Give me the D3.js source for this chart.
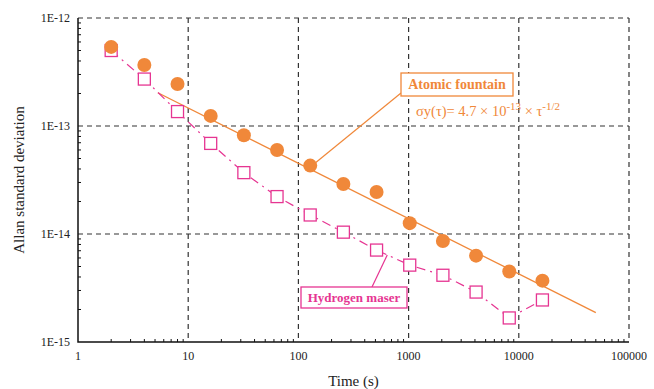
<!DOCTYPE html>
<html>
<head>
<meta charset="utf-8">
<script src="https://cdn.jsdelivr.net/npm/d3@7"></script>
<style>
  body { margin: 0; background: #fff; }
  svg { display: block; font-family: "Liberation Serif", "DejaVu Serif", serif; }
</style>
</head>
<body>
<svg id="chart" width="654" height="389"></svg>
<script>
// averaging times (s)
const taus = [2, 4, 8, 16, 32, 64, 128, 256, 512, 1024, 2048, 4096, 8192, 16384];
const fountain = [5.4e-13, 3.67e-13, 2.45e-13, 1.24e-13, 8.2e-14, 6.0e-14, 4.3e-14, 2.9e-14, 2.45e-14, 1.26e-14, 8.6e-15, 6.3e-15, 4.5e-15, 3.7e-15];
const maser = [5.0e-13, 2.72e-13, 1.36e-13, 6.9e-14, 3.7e-14, 2.22e-14, 1.5e-14, 1.04e-14, 7.1e-15, 5.15e-15, 4.15e-15, 2.9e-15, 1.67e-15, 2.45e-15];
const fitTau = [5.3, 50000];
const fitVal = [2.03e-13, 1.87e-15];
const xTicks = [1, 10, 100, 1000, 10000, 100000];
const yTicks = [1e-12, 1e-13, 1e-14, 1e-15];
const yTickLabels = ["1E-12", "1E-13", "1E-14", "1E-15"];

const orange = "#f0883a";
const pink = "#e63592";

const plotL = 78, plotR = 629, plotT = 18, plotB = 342;

const svg = d3.select("#chart");

const x = d3.scaleLog().domain([1, 100000]).range([plotL, plotR]);
const y = d3.scaleLog().domain([1e-15, 1e-12]).range([plotB, plotT]);

// grid (dashed) at decades, plus dashed top/right frame
const grid = svg.append("g").attr("stroke", "#333").attr("stroke-width", 1.2).attr("stroke-dasharray", "5,4");
grid.selectAll("line.vx")
    .data(xTicks.slice(1))
    .join("line")
    .attr("x1", d => x(d)).attr("x2", d => x(d))
    .attr("y1", plotT).attr("y2", plotB);
grid.selectAll("line.hy")
    .data(yTicks.slice(0, 3))
    .join("line")
    .attr("x1", plotL).attr("x2", plotR)
    .attr("y1", d => y(d)).attr("y2", d => y(d));

// minor ticks, inward
let minorX = [];
for (let e = 1; e < 100000; e *= 10) for (let k = 2; k <= 9; k++) minorX.push(e * k);
let minorY = [];
for (let e = 1e-15; e < 1e-12 * 0.99; e *= 10) for (let k = 2; k <= 9; k++) minorY.push(e * k);

const ticks = svg.append("g").attr("stroke", "#111").attr("stroke-width", 1);
ticks.selectAll("line.mx").data(minorX).join("line")
    .attr("x1", d => x(d)).attr("x2", d => x(d))
    .attr("y1", plotB).attr("y2", plotB - 3);
ticks.selectAll("line.my").data(minorY).join("line")
    .attr("x1", plotL).attr("x2", plotL + 3)
    .attr("y1", d => y(d)).attr("y2", d => y(d));

// solid left & bottom axis lines
svg.append("path")
    .attr("d", `M${plotL},${plotT}V${plotB}H${plotR}`)
    .attr("fill", "none").attr("stroke", "#111").attr("stroke-width", 1.5);

// tick labels
svg.append("g").selectAll("text")
    .data(xTicks).join("text")
    .attr("x", d => x(d)).attr("y", 360)
    .attr("text-anchor", "middle")
    .attr("font-size", 12).attr("fill", "#222")
    .text(d => d);
svg.append("g").selectAll("text")
    .data(yTicks).join("text")
    .attr("x", 70).attr("y", d => y(d) + 4)
    .attr("text-anchor", "end")
    .attr("font-size", 12).attr("fill", "#222")
    .text((d, i) => yTickLabels[i]);

// axis titles
svg.append("text")
    .attr("x", (plotL + plotR) / 2).attr("y", 386)
    .attr("text-anchor", "middle").attr("font-size", 15).attr("fill", "#222")
    .text("Time (s)");
svg.append("text")
    .attr("transform", `translate(24, ${(plotT + plotB) / 2}) rotate(-90)`)
    .attr("text-anchor", "middle").attr("font-size", 15).attr("fill", "#222")
    .text("Allan standard deviation");

// fit line for the fountain
svg.append("line")
    .attr("x1", x(fitTau[0])).attr("y1", y(fitVal[0]))
    .attr("x2", x(fitTau[1])).attr("y2", y(fitVal[1]))
    .attr("stroke", orange).attr("stroke-width", 1.3);

// maser dash-dot line + squares
const maserPts = taus.map((t, i) => [t, maser[i]]);
svg.append("path")
    .datum(maserPts)
    .attr("d", d3.line().x(d => x(d[0])).y(d => y(d[1])))
    .attr("fill", "none").attr("stroke", pink).attr("stroke-width", 1.2)
    .attr("stroke-dasharray", "9,5,2,5");
const sq = 12;
svg.append("g").selectAll("rect")
    .data(maserPts).join("rect")
    .attr("x", d => x(d[0]) - sq / 2).attr("y", d => y(d[1]) - sq / 2)
    .attr("width", sq).attr("height", sq)
    .attr("fill", "#fff").attr("stroke", pink).attr("stroke-width", 1.3);

// fountain circles
svg.append("g").selectAll("circle")
    .data(taus.map((t, i) => [t, fountain[i]])).join("circle")
    .attr("cx", d => x(d[0])).attr("cy", d => y(d[1]))
    .attr("r", 7).attr("fill", orange);

// callouts
svg.append("line")
    .attr("x1", 401).attr("y1", 93)
    .attr("x2", x(118)).attr("y2", y(3.9e-14))
    .attr("stroke", orange).attr("stroke-width", 1.2);
svg.append("rect")
    .attr("x", 401).attr("y", 73).attr("width", 112).attr("height", 23)
    .attr("fill", "#fff").attr("stroke", orange).attr("stroke-width", 1.3);
svg.append("text")
    .attr("x", 457).attr("y", 89).attr("text-anchor", "middle")
    .attr("font-size", 14).attr("font-weight", "bold").attr("fill", orange)
    .text("Atomic fountain");

svg.append("line")
    .attr("x1", 372).attr("y1", 287)
    .attr("x2", x(640)).attr("y2", y(6.4e-15))
    .attr("stroke", pink).attr("stroke-width", 1.2);
svg.append("rect")
    .attr("x", 301).attr("y", 287).attr("width", 106).attr("height", 21)
    .attr("fill", "#fff").attr("stroke", pink).attr("stroke-width", 1.3);
svg.append("text")
    .attr("x", 354).attr("y", 302).attr("text-anchor", "middle")
    .attr("font-size", 13).attr("font-weight", "bold").attr("fill", pink)
    .text("Hydrogen maser");

// formula
const f = svg.append("text")
    .attr("x", 416).attr("y", 116)
    .attr("font-size", 14.5).attr("fill", orange);
f.append("tspan").text("σy(τ)= 4.7 × 10");
f.append("tspan").attr("font-size", 11).attr("dy", -6).text("-13");
f.append("tspan").attr("dy", 6).text(" × τ");
f.append("tspan").attr("font-size", 11).attr("dy", -6).text("-1/2");
</script>
</body>
</html>
